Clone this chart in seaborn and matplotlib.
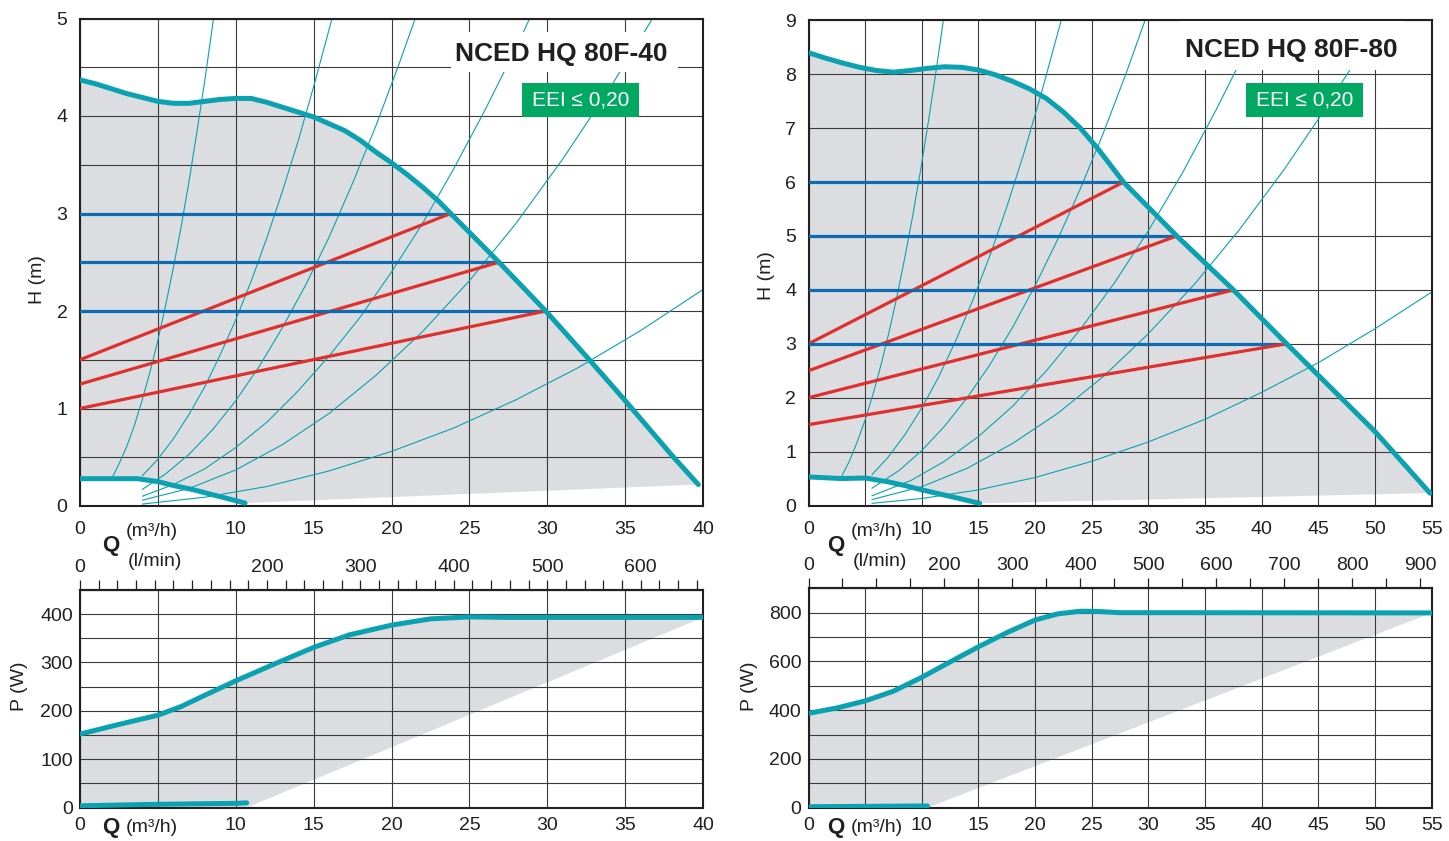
import numpy as np
import matplotlib
matplotlib.use("Agg")
import matplotlib.pyplot as plt
from matplotlib.patches import Rectangle
import seaborn as sns

# ---------------- NCED HQ 80F-40 : head (Q m3/h, H m) ----------------
q_max_40 = [0, 1, 2, 3, 4, 5, 6, 7, 8, 9, 10, 11, 12, 13, 14, 15, 16, 17, 18, 19, 20, 21, 22, 23, 23.8,
            26.9, 29.9, 32.7, 34.9, 38.0, 39.7]
h_max_40 = [4.37, 4.33, 4.28, 4.23, 4.19, 4.15, 4.13, 4.13, 4.15, 4.17, 4.18, 4.18, 4.14, 4.09, 4.04, 3.99,
            3.92, 3.85, 3.75, 3.63, 3.52, 3.40, 3.27, 3.13, 3.0, 2.5, 2.0, 1.50, 1.10, 0.52, 0.22]
q_min_40 = [0, 2.0, 3.7, 5.0, 6.0, 7.2, 8.9, 10.6]
h_min_40 = [0.28, 0.28, 0.28, 0.25, 0.21, 0.17, 0.10, 0.03]
# constant pressure settings (blue) and proportional pressure (red)
h_const_40 = [3.0, 2.5, 2.0]
q_const_40 = [23.8, 26.9, 29.9]
h_prop_40 = [1.5, 1.25, 1.0]
# thin system curves
sys_q_40 = [
    [2.0, 2.5, 3.0, 3.5, 4.0, 4.5, 5.0, 5.5, 6.0, 6.5, 7.0, 7.5, 8.0, 8.6],
    [4, 5, 6, 7, 8, 9, 10, 11, 12, 13, 14, 15, 16.2],
    [4, 5.5, 7, 8.5, 10, 11.5, 13, 14.5, 16, 17.5, 19, 20.5, 21.5],
    [4, 6, 8, 10, 12, 14, 16, 18, 20, 22, 24, 26, 28, 28.9],
    [4, 7, 10, 13, 16, 19, 22, 25, 28, 31, 34, 36.8],
    [4, 8, 12, 16, 20, 24, 28, 32, 36, 40],
]
sys_h_40 = [
    [0.27, 0.43, 0.61, 0.83, 1.09, 1.38, 1.70, 2.06, 2.45, 2.87, 3.33, 3.83, 4.35, 5.03],
    [0.31, 0.48, 0.69, 0.94, 1.22, 1.55, 1.91, 2.31, 2.75, 3.23, 3.74, 4.30, 5.01],
    [0.17, 0.33, 0.53, 0.78, 1.08, 1.43, 1.83, 2.27, 2.76, 3.31, 3.90, 4.54, 4.99],
    [0.10, 0.22, 0.38, 0.60, 0.86, 1.18, 1.54, 1.94, 2.40, 2.90, 3.46, 4.06, 4.70, 5.01],
    [0.06, 0.18, 0.37, 0.63, 0.95, 1.34, 1.79, 2.31, 2.90, 3.56, 4.28, 5.01],
    [0.02, 0.09, 0.20, 0.36, 0.56, 0.80, 1.09, 1.42, 1.80, 2.22],
]

# ---------------- NCED HQ 80F-80 : head ----------------
q_max_80 = [0, 1.5, 3, 4.5, 6, 7.5, 9, 10.5, 12, 13.5, 15, 16.5, 18, 19.5, 21, 22.5, 24, 25.5, 27.8,
            32.5, 37.5, 42.2, 50.0, 54.85]
h_max_80 = [8.40, 8.30, 8.21, 8.13, 8.07, 8.04, 8.07, 8.11, 8.14, 8.13, 8.08, 7.99, 7.87, 7.73, 7.55,
            7.30, 7.00, 6.63, 6.0, 5.0, 4.0, 3.0, 1.37, 0.23]
q_min_80 = [0, 2.9, 5.0, 7.0, 8.5, 10.0, 12.9, 15.1]
h_min_80 = [0.53, 0.50, 0.51, 0.44, 0.37, 0.29, 0.15, 0.04]
h_const_80 = [6.0, 5.0, 4.0, 3.0]
q_const_80 = [27.8, 32.5, 37.5, 42.2]
h_prop_80 = [3.0, 2.5, 2.0, 1.5]
sys_q_80 = [
    [2.9, 3.6, 4.3, 5.0, 5.7, 6.4, 7.1, 7.8, 8.5, 9.2, 9.9, 10.6, 11.3, 11.9],
    [5.6, 7, 8.5, 10, 11.5, 13, 14.5, 16, 17.5, 19, 20.5, 22.3],
    [5.6, 8, 10, 12, 14, 16, 18, 20, 22, 24, 26, 28, 29.7],
    [5.6, 9, 12, 15, 18, 21, 24, 27, 30, 33, 36, 38, 39.85],
    [5.6, 10, 14, 18, 22, 26, 30, 34, 38, 42, 45, 47.8, 50.4],
    [5.6, 10, 15, 20, 25, 30, 35, 40, 45, 50, 55],
]
sys_h_80 = [
    [0.53, 0.82, 1.18, 1.59, 2.07, 2.61, 3.21, 3.87, 4.60, 5.38, 6.23, 7.15, 8.12, 9.0],
    [0.57, 0.89, 1.31, 1.81, 2.39, 3.06, 3.81, 4.63, 5.54, 6.53, 7.61, 9.0],
    [0.32, 0.65, 1.02, 1.47, 2.00, 2.61, 3.30, 4.08, 4.94, 5.88, 6.90, 8.00, 9.0],
    [0.18, 0.46, 0.82, 1.28, 1.84, 2.50, 3.27, 4.13, 5.10, 6.17, 7.35, 8.19, 9.0],
    [0.11, 0.35, 0.69, 1.15, 1.71, 2.39, 3.19, 4.09, 5.11, 6.24, 7.17, 8.09, 9.0],
    [0.04, 0.13, 0.29, 0.52, 0.82, 1.18, 1.60, 2.10, 2.65, 3.28, 3.96],
]

# ---------------- power curves (P in W) ----------------
q_pmax_40 = [0, 2.5, 5.0, 6.5, 8.0, 10.0, 12.5, 15.0, 17.3, 20.0, 22.5, 25.0, 27.5, 40.0]
p_pmax_40 = [152, 172, 191, 209, 232, 262, 297, 331, 357, 377, 390, 394, 393, 393]
q_pmin_40 = [0, 5.0, 10.0, 10.7]
p_pmin_40 = [4, 7, 9, 10]

q_pmax_80 = [0, 2.5, 5.0, 7.5, 10.0, 12.5, 15.0, 17.5, 20.0, 22.0, 24.0, 25.5, 27.5, 30.0, 55.0]
p_pmax_80 = [387, 409, 438, 478, 535, 598, 660, 718, 770, 795, 806, 805, 800, 800, 799]
q_pmin_80 = [0, 10.0, 10.5]
p_pmin_80 = [4, 7, 7]

titles = ["NCED HQ 80F-40", "NCED HQ 80F-80"]
eei_label = "EEI \u2264 0,20"

TEAL = "#0aa1b0"
BLUE = "#0b6cb4"
RED = "#e0302e"
FILL = "#dcdde0"
GREEN = "#00a862"
GRID = "#3a3a3a"
INK = "#231f20"

sns.set_theme(style="white")
plt.rcParams["font.family"] = ["Liberation Sans", "DejaVu Sans"]

W, H = 1449, 841
fig = plt.figure(figsize=(W / 100, H / 100), dpi=100)


def px_axes(x0, y_top, x1, y_bot):
    return fig.add_axes([x0 / W, 1 - y_bot / H, (x1 - x0) / W, (y_bot - y_top) / H])


def curve(ax, q, v, color, lw, z):
    sns.lineplot(x=q, y=v, ax=ax, color=color, linewidth=lw, sort=False, estimator=None,
                 zorder=z, solid_joinstyle="round")


def style_axes(ax, qmax, ymax, ystep, ylab_step, xpad, ypad):
    xt = np.arange(0, qmax + 0.01, 5)
    ax.set_xticks(xt)
    ax.set_xticklabels(["" if v == 5 else f"{v:g}" for v in xt])
    yt = np.arange(0, ymax + 0.001, ystep)
    ax.set_yticks(yt)
    ax.set_yticklabels([f"{v:g}" if abs(v / ylab_step - round(v / ylab_step)) < 1e-6 else "" for v in yt])
    ax.set_xlim(0, qmax)
    ax.set_ylim(0, ymax)
    ax.set_axisbelow(True)
    ax.grid(True, color=GRID, linewidth=0.8)
    ax.tick_params(axis="x", length=0, pad=xpad, labelsize=14, colors=INK)
    ax.tick_params(axis="y", length=0, pad=ypad, labelsize=14, colors=INK)
    for sp in ax.spines.values():
        sp.set_color(INK)
        sp.set_linewidth(1.5)
    ax.set_xlabel("")
    ax.set_ylabel("")


def draw_head(ax, q_max, h_max, q_min, h_min, h_const, q_const, h_prop, sys_q, sys_h, qmax, hmax, hstep):
    ax.fill(q_max + q_min[::-1], h_max + h_min[::-1], color=FILL, lw=0, zorder=0.2)
    for q, h in zip(sys_q, sys_h):
        curve(ax, q, h, TEAL, 0.8, 2)
    for hc, qc, hp in zip(h_const, q_const, h_prop):
        curve(ax, [0, qc], [hc, hc], BLUE, 2.3, 3)
        curve(ax, [0, qc], [hp, hc], RED, 2.3, 3)
    curve(ax, q_max, h_max, TEAL, 3.6, 4)
    curve(ax, q_min, h_min, TEAL, 3.6, 4)
    style_axes(ax, qmax, hmax, hstep, 1, 11, 9)


def draw_power(ax, q_pmax, p_pmax, q_pmin, p_pmin, qmax, pmax, pstep, plab, lstep, lmin_labels):
    ax.fill(q_pmax + [q_pmin[-1], 0], p_pmax + [0, 0], color=FILL, lw=0, zorder=0.2)
    curve(ax, q_pmax, p_pmax, TEAL, 3.6, 4)
    curve(ax, q_pmin, p_pmin, TEAL, 3.6, 4)
    style_axes(ax, qmax, pmax, pstep, plab, 7, 5)
    sec = ax.secondary_xaxis("top", functions=(lambda q: q * 1000 / 60, lambda l: l * 60 / 1000))
    lt = np.arange(0, qmax * 1000 / 60, lstep)
    sec.set_xticks(lt)
    sec.set_xticklabels([f"{v:g}" if v in lmin_labels else "" for v in lt])
    sec.tick_params(direction="out", length=7, width=0.9, pad=3, labelsize=14, colors=INK)
    sec.spines["top"].set_linewidth(1.5)


ax_h40 = px_axes(80, 18.5, 703, 506)
ax_h80 = px_axes(808.5, 20.4, 1431.7, 505.5)
ax_p40 = px_axes(80, 589.8, 703, 807.7)
ax_p80 = px_axes(808.5, 588.3, 1431.7, 807.7)

draw_head(ax_h40, q_max_40, h_max_40, q_min_40, h_min_40, h_const_40, q_const_40, h_prop_40,
          sys_q_40, sys_h_40, 40, 5, 0.5)
draw_head(ax_h80, q_max_80, h_max_80, q_min_80, h_min_80, h_const_80, q_const_80, h_prop_80,
          sys_q_80, sys_h_80, 55, 9, 1)
draw_power(ax_p40, q_pmax_40, p_pmax_40, q_pmin_40, p_pmin_40, 40, 450, 50, 100, 20,
           [0, 200, 300, 400, 500, 600])
draw_power(ax_p80, q_pmax_80, p_pmax_80, q_pmin_80, p_pmin_80, 55, 900, 100, 200, 50,
           [0, 200, 300, 400, 500, 600, 700, 800, 900])

# title boxes (white) and EEI badges
for ax, title, box, tpos, eei_box, epos in [
    (ax_h40, titles[0], (23.8, 4.45, 14.6, 0.41), (30.9, 4.64), (28.4, 3.99, 7.5, 0.35), (32.15, 4.16)),
    (ax_h80, titles[1], (32.9, 8.08, 19.6, 0.90), (42.65, 8.45), (38.6, 7.21, 10.3, 0.63), (43.75, 7.52)),
]:
    ax.add_patch(Rectangle(box[:2], box[2], box[3], fc="white", ec="none", zorder=5))
    ax.text(*tpos, title, ha="center", va="center", fontsize=19, fontweight="bold", color=INK, zorder=6)
    ax.add_patch(Rectangle(eei_box[:2], eei_box[2], eei_box[3], fc=GREEN, ec="none", zorder=5))
    ax.text(*epos, eei_label, ha="center", va="center", fontsize=15, color="white", zorder=6)


# axis names
def ftext(x, y, s, **kw):
    fig.text(x / W, 1 - y / H, s, ha="center", va="center", color=INK, **kw)


ftext(38, 280, "H (m)", rotation=90, fontsize=14)
ftext(766, 276, "H (m)", rotation=90, fontsize=14)
ftext(20, 686, "P (W)", rotation=90, fontsize=14)
ftext(749, 686, "P (W)", rotation=90, fontsize=14)
for xq, xu in [(111, 152), (836, 877)]:
    ftext(xq, 546, "Q", fontsize=16, fontweight="bold")
    ftext(xu, 532, "(m\u00b3/h)", fontsize=14)
    ftext(xu + 3, 562, "(l/min)", fontsize=14)
    ftext(xq, 828, "Q", fontsize=16, fontweight="bold")
    ftext(xu, 827, "(m\u00b3/h)", fontsize=14)

fig.savefig("out.png", dpi=100)
